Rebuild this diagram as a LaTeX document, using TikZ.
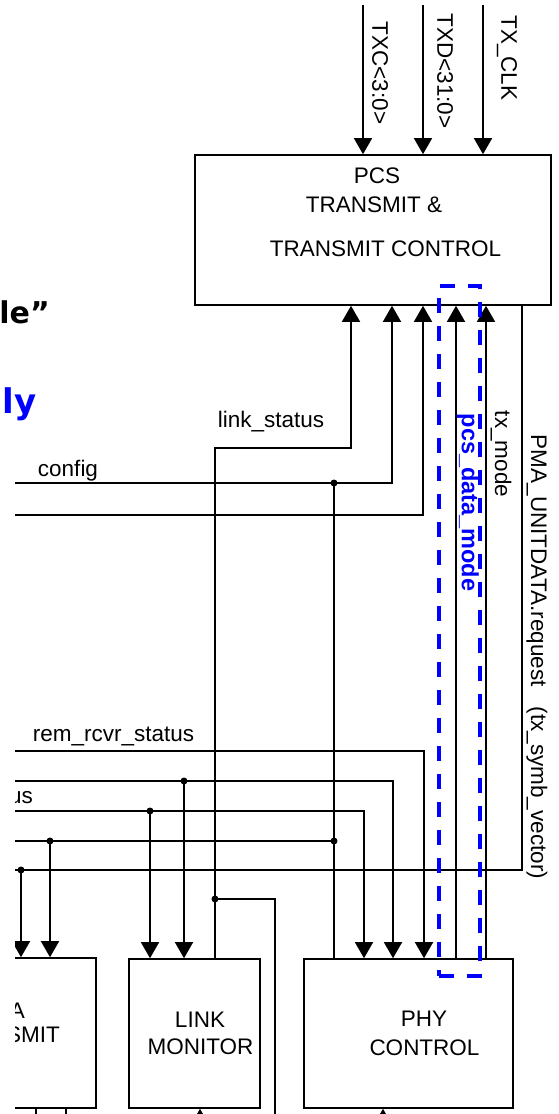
\documentclass[tikz,border=0pt]{standalone}
\usepackage{fontspec}
\setmainfont{Liberation Sans}
\newfontfamily\slidefont{DejaVu Sans}
\usetikzlibrary{arrows.meta, positioning}

\tikzset{
  block/.style={draw, line width=1.6pt, inner sep=0pt},
  wire/.style={line width=1.6pt},
  sig/.style={wire, -{Triangle[width=18pt, length=16pt]}},
  dot/.style={circle, fill, inner sep=0pt, minimum size=7pt},
  lbl/.style={inner sep=0pt, font=\fontsize{22.5}{27}\selectfont},
  vlbl/.style={lbl, rotate=-90},
  hlbox/.style={draw=blue, line width=4pt, dash pattern=on 15pt off 13pt, inner sep=0pt},
}

\begin{document}
\begin{tikzpicture}[x=1pt, y=-1pt]

  \fill[white] (0,0) rectangle (558,1114);
  \useasboundingbox (0,0) rectangle (558,1114);

  % words of the slide behind the figure
  \node[inner sep=0pt, anchor=base east, font=\slidefont\bfseries\fontsize{30}{34}\selectfont] (slideA) at (50,323) {le”};
  \node[inner sep=0pt, anchor=base east, text=blue, font=\slidefont\bfseries\fontsize{34}{38}\selectfont] (slideB) at (37,413) {ly};

  \begin{scope}
    \clip (15,0) rectangle (558,1114);

    % blocks
    \node[block, minimum width=356pt, minimum height=150pt] (pcs) at (373,230) {};
    \node[block, minimum width=190pt, minimum height=150pt] (pmatx) at (1,1033) {};
    \node[block, minimum width=131pt, minimum height=149pt] (lmon) at (194.5,1033.5) {};
    \node[block, minimum width=209pt, minimum height=149pt] (phy) at (408.5,1033.5) {};

    \node[lbl] (pcsA) at (377,176) {PCS};
    \node[lbl] (pcsB) at (374,205) {TRANSMIT \&};
    \node[lbl] (pcsC) at (385.5,249) {TRANSMIT CONTROL};
    \node[lbl, anchor=east] (ptxA) at (25,1011) {A};
    \node[lbl, anchor=east] (ptxB) at (60,1035) {SMIT};
    \node[lbl] (lmonA) at (200,1020) {LINK};
    \node[lbl] (lmonB) at (200.5,1047) {MONITOR};
    \node[lbl] (phyA) at (424,1019) {PHY};
    \node[lbl] (phyB) at (424.5,1048) {CONTROL};

    % inputs on top
    \coordinate (txcin) at (363,5);
    \coordinate (txdin) at (423,5);
    \coordinate (clkin) at (483,5);
    \draw[sig] (txcin) -- (pcs.north -| txcin);
    \draw[sig] (txdin) -- (pcs.north -| txdin);
    \draw[sig] (clkin) -- (pcs.north -| clkin);
    \node[vlbl] (txcl) at (380,73) {TXC<3:0>};
    \node[vlbl] (txdl) at (445,71) {TXD<31:0>};
    \node[vlbl] (clkl) at (507,58) {TX\_CLK};

    % link_status
    \node[dot] (jls) at (215,899) {};
    \coordinate (lsout) at (275,1125);
    \draw[sig] (lmon.north -| 215,0) |- (351,448) -- (pcs.south -| 351,0);
    \draw[wire] (jls.center) -| (lsout);
    \node[lbl, anchor=base] (lsl) at (271,427) {link\_status};

    % config
    \coordinate (cfgin) at (15,483);
    \node[dot] (jcfg) at (334,483) {};
    \draw[sig] (cfgin) -| (pcs.south -| 392,0);
    \draw[wire] (jcfg.center) -- (phy.north -| jcfg);
    \node[lbl, anchor=base] (cfgl) at (68,476) {config};

    \coordinate (w2in) at (15,515);
    \draw[sig] (w2in) -| (pcs.south -| 423,0);

    % rem_rcvr_status
    \coordinate (rrsin) at (15,751);
    \draw[sig] (rrsin) -| (phy.north -| 424,0);
    \node[lbl, anchor=base] (rrsl) at (113.5,741) {rem\_rcvr\_status};

    \coordinate (w5in) at (15,781);
    \node[dot] (j5) at (184,781) {};
    \draw[sig] (w5in) -| (phy.north -| 393,0);
    \draw[sig] (j5.center) -- (lmon.north -| j5);

    \coordinate (w6in) at (15,811);
    \node[dot] (j6) at (150,811) {};
    \draw[sig] (w6in) -| (phy.north -| 364,0);
    \draw[sig] (j6.center) -- (lmon.north -| j6);
    \node[lbl, anchor=base east] (w6l) at (33,803) {us};

    \coordinate (w7in) at (15,841);
    \node[dot] (j7a) at (50,841) {};
    \node[dot] (j7b) at (334,841) {};
    \draw[wire] (w7in) -- (j7b.center);
    \draw[sig] (j7a.center) -- (pmatx.north -| j7a);

    % PMA_UNITDATA.request
    \coordinate (pmaout) at (15,870);
    \node[dot] (jpma) at (21,870) {};
    \draw[wire] (pcs.south -| 522,0) |- (pmaout);
    \draw[sig] (jpma.center) -- (pmatx.north -| jpma);
    \node[vlbl] (pmal) at (537,657) {PMA\_UNITDATA.request\hspace{20pt}(tx\_symb\_vector)};

    % pcs_data_mode and tx_mode
    \draw[sig] (phy.north -| 456,0) -- (pcs.south -| 456,0);
    \draw[sig] (phy.north -| 486,0) -- (pcs.south -| 486,0);
    \node[vlbl] (txml) at (501,454) {tx\_mode};
    \node[vlbl, text=blue, font=\bfseries\fontsize{23.5}{28}\selectfont] (pdml) at (468,502.5) {pcs\_data\_mode};

    % lines leaving the bottom
    \coordinate (ptxo1) at (36,1125);
    \coordinate (ptxo2) at (66,1125);
    \coordinate (lmonin) at (200,1135);
    \coordinate (phyin) at (383,1135);
    \draw[wire] (pmatx.south -| ptxo1) -- (ptxo1);
    \draw[wire] (pmatx.south -| ptxo2) -- (ptxo2);
    \draw[sig] (lmonin) -- (lmon.south -| lmonin);
    \draw[sig] (phyin) -- (phy.south -| phyin);

    % highlight
    \node[hlbox, minimum width=41pt, minimum height=690pt] (hl) at (459.5,631) {};
  \end{scope}

\end{tikzpicture}
\end{document}
